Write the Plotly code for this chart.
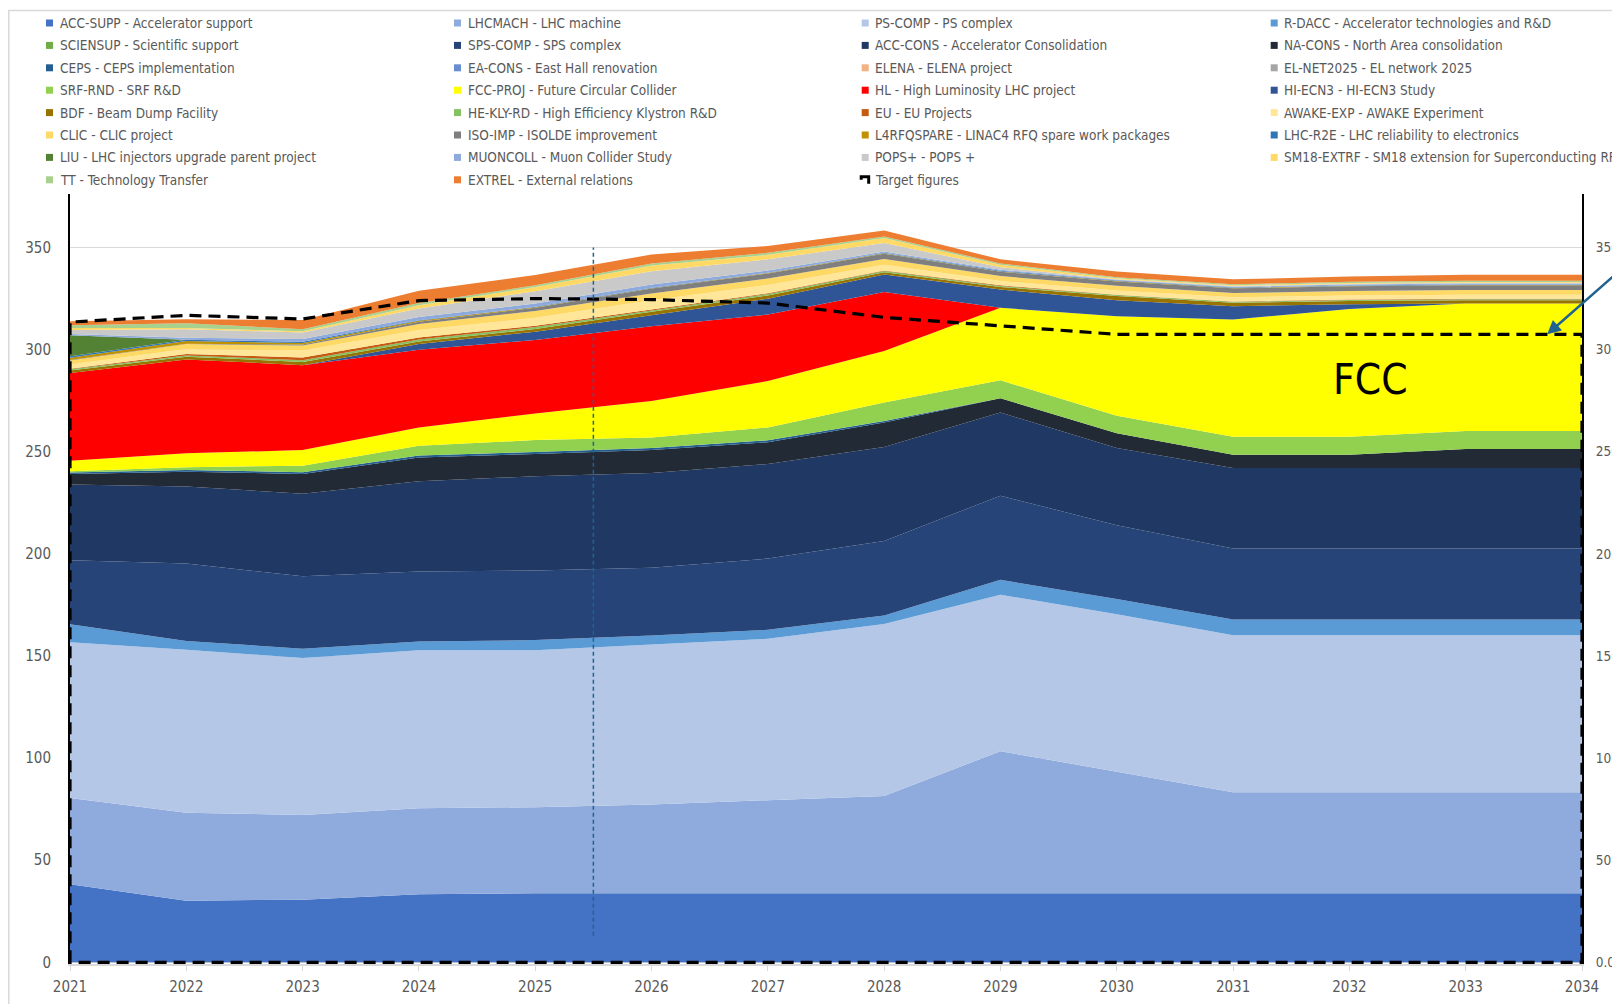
import plotly.graph_objects as go

# ---------------- data ----------------
years = list(range(2021, 2035))

ACC_SUPP   = [38.3, 30.2, 30.7, 33.3, 33.8, 33.8, 33.8, 33.8, 33.8, 33.8, 33.8, 33.8, 33.8, 33.8]
LHCMACH    = [42.2, 43.0, 41.5, 42.2, 42.2, 43.5, 45.6, 47.7, 69.6, 59.4, 49.5, 49.5, 49.5, 49.5]
PS_COMP    = [76.2, 79.9, 76.8, 77.3, 76.8, 78.2, 79.0, 84.2, 76.6, 77.3, 76.8, 76.8, 76.8, 76.8]
R_DACC     = [8.9, 4.2, 4.6, 4.3, 5.0, 4.5, 4.4, 4.1, 7.3, 7.4, 7.8, 7.8, 7.8, 7.8]
SCIENSUP   = [0, 0, 0, 0, 0, 0, 0, 0, 0, 0, 0, 0, 0, 0]
SPS_COMP   = [31.3, 38.0, 35.4, 34.3, 34.1, 33.2, 34.9, 36.5, 41.2, 36.1, 34.7, 34.7, 34.7, 34.7]
ACC_CONS   = [37.1, 37.7, 40.5, 44.2, 46.1, 46.4, 46.3, 46.0, 40.7, 37.8, 39.4, 39.4, 39.4, 39.4]
NA_CONS    = [5.1, 7.2, 9.6, 11.6, 10.9, 11.2, 10.6, 12.0, 7.0, 7.2, 6.5, 6.5, 9.3, 9.3]
CEPS       = [0.8, 0.9, 0.9, 1.0, 1.0, 1.0, 1.0, 0.8, 0, 0, 0, 0, 0, 0]
EA_CONS    = [0, 0, 0, 0, 0, 0, 0, 0, 0, 0, 0, 0, 0, 0]
ELENA      = [0, 0, 0, 0, 0, 0, 0, 0, 0, 0, 0, 0, 0, 0]
EL_NET2025 = [0, 0, 0, 0, 0, 0, 0, 0, 0, 0, 0, 0, 0, 0]
SRF_RND    = [0.5, 1.3, 3.2, 4.7, 5.8, 5.2, 6.3, 9.0, 8.8, 8.6, 8.8, 8.8, 8.9, 8.9]
FCC_PROJ   = [5.2, 6.9, 7.6, 9.0, 13.0, 17.9, 22.7, 25.2, 35.5, 48.8, 57.4, 62.6, 62.4, 62.4]
HL         = [42.9, 45.9, 41.6, 38.1, 36.0, 36.6, 32.6, 28.9, 0, 0, 0, 0, 0, 0]
HI_ECN3    = [0, 0, 0, 2.7, 4.1, 5.4, 7.7, 8.6, 8.9, 7.8, 6.6, 2.3, 0, 0]
BDF        = [1.3, 1.3, 1.6, 1.3, 1.3, 1.6, 1.6, 1.1, 1.3, 2.0, 1.6, 1.6, 1.6, 1.6]
HE_KLY_RD  = [0.6, 0.6, 0.8, 1.0, 1.0, 0.8, 0.8, 0.6, 0.5, 0.5, 0.5, 0.5, 0.5, 0.5]
EU         = [0.3, 0.8, 1.3, 1.0, 0.6, 0.3, 0.3, 0.3, 0.3, 0.2, 0.2, 0.2, 0.2, 0.2]
AWAKE_EXP  = [2.0, 2.4, 3.5, 3.6, 3.9, 4.6, 4.0, 2.8, 2.1, 2.0, 2.0, 2.0, 2.0, 2.0]
CLIC       = [2.0, 2.4, 2.4, 2.9, 3.3, 3.3, 3.2, 2.8, 2.4, 2.4, 2.1, 2.2, 2.3, 2.3]
ISO_IMP    = [0.2, 0.2, 0.5, 1.1, 1.6, 2.4, 2.5, 2.6, 2.1, 2.1, 2.3, 2.3, 2.3, 2.3]
L4RFQSPARE = [1.1, 1.3, 0.8, 0.5, 0.3, 0.2, 0.2, 0.2, 0.2, 0.2, 0.2, 0.2, 0.2, 0.2]
LHC_R2E    = [0.7, 0.6, 0.6, 0.3, 0.2, 0.2, 0.2, 0.2, 0.3, 0.2, 0.2, 0.2, 0.2, 0.2]
LIU        = [10.3, 0, 0, 0, 0, 0, 0, 0, 0, 0, 0, 0, 0, 0]
MUONCOLL   = [0.6, 1.0, 1.3, 1.6, 1.6, 1.6, 1.0, 0.6, 0.5, 0.4, 0.4, 0.5, 0.5, 0.5]
POPS_PLUS  = [2.0, 4.2, 3.2, 4.1, 6.0, 6.5, 5.5, 4.2, 1.2, 0.3, 0.3, 0.3, 0.3, 0.3]
SM18_EXTRF = [1.0, 0.6, 0.6, 1.6, 2.1, 2.8, 2.2, 2.4, 1.3, 0.4, 0.4, 0.4, 0.4, 0.4]
TT         = [1.3, 2.3, 1.0, 1.1, 0.8, 1.0, 1.0, 0.8, 0.6, 0.5, 0.5, 0.6, 0.6, 0.6]
EXTREL     = [2.0, 2.0, 4.5, 6.0, 5.0, 4.4, 3.3, 2.9, 2.0, 2.8, 2.4, 2.6, 3.0, 3.0]

TARGET     = [313.5, 316.8, 315.0, 324.0, 325.0, 324.5, 322.8, 315.8, 311.5, 307.5, 307.5, 307.5, 307.5, 307.5]

y_ticks = [0, 50, 100, 150, 200, 250, 300, 350]
marker_year = 2025.5
marker_span = [13, 350]
fcc_label = "FCC"
fcc_pos = [2032.18, 285.5]
arrow_target = [2033.7, 307.5]

series = [
    ("ACC-SUPP - Accelerator support", ACC_SUPP, "#4472C4"),
    ("LHCMACH - LHC machine", LHCMACH, "#8FAADC"),
    ("PS-COMP - PS complex", PS_COMP, "#B4C7E7"),
    ("R-DACC - Accelerator technologies and R&D", R_DACC, "#5B9BD5"),
    ("SCIENSUP - Scientific support", SCIENSUP, "#70AD47"),
    ("SPS-COMP - SPS complex", SPS_COMP, "#264478"),
    ("ACC-CONS - Accelerator Consolidation", ACC_CONS, "#203864"),
    ("NA-CONS - North Area consolidation", NA_CONS, "#222A35"),
    ("CEPS - CEPS implementation", CEPS, "#255E91"),
    ("EA-CONS - East Hall renovation", EA_CONS, "#698ED0"),
    ("ELENA - ELENA project", ELENA, "#F4B183"),
    ("EL-NET2025 - EL network 2025", EL_NET2025, "#A5A5A5"),
    ("SRF-RND - SRF R&D", SRF_RND, "#92D050"),
    ("FCC-PROJ - Future Circular Collider", FCC_PROJ, "#FFFF00"),
    ("HL - High Luminosity LHC project", HL, "#FF0000"),
    ("HI-ECN3 - HI-ECN3 Study", HI_ECN3, "#2F5597"),
    ("BDF - Beam Dump Facility", BDF, "#997300"),
    ("HE-KLY-RD - High Efficiency Klystron R&D", HE_KLY_RD, "#84C162"),
    ("EU - EU Projects", EU, "#C55A11"),
    ("AWAKE-EXP - AWAKE Experiment", AWAKE_EXP, "#FFE699"),
    ("CLIC - CLIC project", CLIC, "#FFD966"),
    ("ISO-IMP - ISOLDE improvement", ISO_IMP, "#7F7F7F"),
    ("L4RFQSPARE - LINAC4 RFQ spare work packages", L4RFQSPARE, "#BF9000"),
    ("LHC-R2E - LHC reliability to electronics", LHC_R2E, "#2E75B6"),
    ("LIU - LHC injectors upgrade parent project", LIU, "#548235"),
    ("MUONCOLL - Muon Collider Study", MUONCOLL, "#8EA9DB"),
    ("POPS+ - POPS +", POPS_PLUS, "#C9C9C9"),
    ("SM18-EXTRF - SM18 extension for Superconducting RF", SM18_EXTRF, "#FFD966"),
    ("TT - Technology Transfer", TT, "#A9D18E"),
    ("EXTREL - External relations", EXTREL, "#ED7D31"),
]
target_label = "Target figures"

# ---------------- figure ----------------
FONT = "Liberation Sans Narrow, Arial Narrow, DejaVu Sans Condensed, sans-serif"
TXT = "#595959"
OFF = 8                       # page body margin: figure starts at (8, 8) in the window
W, H = 1620 - OFF, 1004 - OFF
ML, MR, MT, MB = 70 - OFF, 38, 194 - OFF, 40

fig = go.Figure()
for name, vals, col in series:
    fig.add_trace(go.Scatter(
        x=years, y=vals, name=name, mode="lines", stackgroup="one",
        line=dict(width=0, color=col), fillcolor=col, showlegend=False,
        hoverinfo="skip"))

# Target figures drawn as outline of an unfilled area
tx = [years[0]] + years + [years[-1], years[0]]
ty = [0] + TARGET + [0, 0]
fig.add_trace(go.Scatter(x=tx, y=ty, mode="lines", name=target_label,
                         line=dict(color="black", width=3.2, dash="12px,7px"),
                         showlegend=False, hoverinfo="skip"))
# invisible trace for secondary axis
fig.add_trace(go.Scatter(x=[years[0]], y=[0], yaxis="y2", mode="markers",
                         marker=dict(opacity=0), showlegend=False, hoverinfo="skip"))

yr = [-0.8, 376.2]
fig.update_layout(
    width=W, height=H,
    margin=dict(l=ML, r=MR, t=MT, b=MB, autoexpand=False),
    paper_bgcolor="white", plot_bgcolor="white",
    font=dict(family=FONT, color=TXT, size=16),
    showlegend=False,
    xaxis=dict(range=[years[0], years[-1]], tickvals=years, ticktext=[str(y) for y in years],
               showline=True, linecolor="#D9D9D9", linewidth=1.5, automargin=False,
               ticks="outside", ticklen=5, tickcolor="#D9D9D9",
               showgrid=False, zeroline=False, ticklabelstandoff=3,
               tickfont=dict(size=15, color=TXT, family=FONT)),
    yaxis=dict(range=yr, tickvals=y_ticks, showline=True, linecolor="black", linewidth=2,
               showgrid=True, gridcolor="#D9D9D9", gridwidth=1, zeroline=False,
               ticks="", ticklabelstandoff=14, automargin=False,
               tickfont=dict(size=15, color=TXT, family=FONT)),
    yaxis2=dict(range=yr, tickvals=y_ticks, overlaying="y", side="right",
                showline=True, linecolor="black", linewidth=2, showgrid=False,
                zeroline=False, ticks="", tickformat=".1f", ticklabelstandoff=9,
                automargin=False,
                tickfont=dict(size=13.5, color=TXT, family=FONT)),
)

shapes = []
annotations = []

def px_x(px):
    """window pixel x (reference coordinates) -> paper fraction"""
    return (px - OFF - ML) / (W - ML - MR)

def px_y(py):
    """window pixel y (reference coordinates) -> paper fraction"""
    return (H - MB - (py - OFF)) / (H - MT - MB)

# chart border
shapes.append(dict(type="rect", xref="paper", yref="paper",
                   x0=px_x(OFF + 0.8), x1=px_x(1700), y0=px_y(1100), y1=px_y(10.5),
                   line=dict(color="#D9D9D9", width=1.5), fillcolor="rgba(0,0,0,0)", layer="below"))

# vertical dashed marker line
shapes.append(dict(type="line", xref="x", yref="y", x0=marker_year, x1=marker_year,
                   y0=marker_span[0], y1=marker_span[1],
                   line=dict(color="#1F6391", width=1.5, dash="4px,3px")))

# legend (manual, 4 columns)
col_text_x = [57.5, 465.5, 873.2, 1282.2]
row0_y, row_dy = 23.0, 22.4
items = [(n, c) for n, _, c in series] + [(target_label, None)]
for i, (name, col) in enumerate(items):
    r, c = divmod(i, 4)
    tx_px = col_text_x[c]
    ty_px = row0_y + r * row_dy
    annotations.append(dict(xref="paper", yref="paper", x=px_x(tx_px), y=px_y(ty_px),
                            xanchor="left", yanchor="middle", showarrow=False,
                            text=name, font=dict(size=13.5, color=TXT, family=FONT)))
    if col is not None:
        shapes.append(dict(type="rect", xref="paper", yref="paper",
                           xsizemode="pixel", ysizemode="pixel",
                           xanchor=px_x(tx_px - 8), yanchor=px_y(ty_px),
                           x0=-3.5, x1=3.5, y0=-3.5, y1=3.5,
                           line=dict(width=0), fillcolor=col))
    else:
        shapes.append(dict(type="path", xref="paper", yref="paper",
                           xsizemode="pixel", ysizemode="pixel",
                           xanchor=px_x(tx_px - 8), yanchor=px_y(ty_px),
                           path="M -4,0 L -4,3 L 3.5,3 L 3.5,-4",
                           line=dict(color="black", width=3)))

# FCC label
annotations.append(dict(x=fcc_pos[0], y=fcc_pos[1], xref="x", yref="y", text=fcc_label,
                        showarrow=False, font=dict(size=42, color="black", family=FONT)))
# arrow pointing at the target line
annotations.append(dict(x=arrow_target[0], y=arrow_target[1], xref="x", yref="y", text="",
                        showarrow=True, ax=90, ay=-64, arrowhead=2, arrowsize=1.1,
                        arrowwidth=2.5, arrowcolor="#1F6391"))

fig.update_layout(shapes=shapes, annotations=annotations)
fig.write_html("out.html")
